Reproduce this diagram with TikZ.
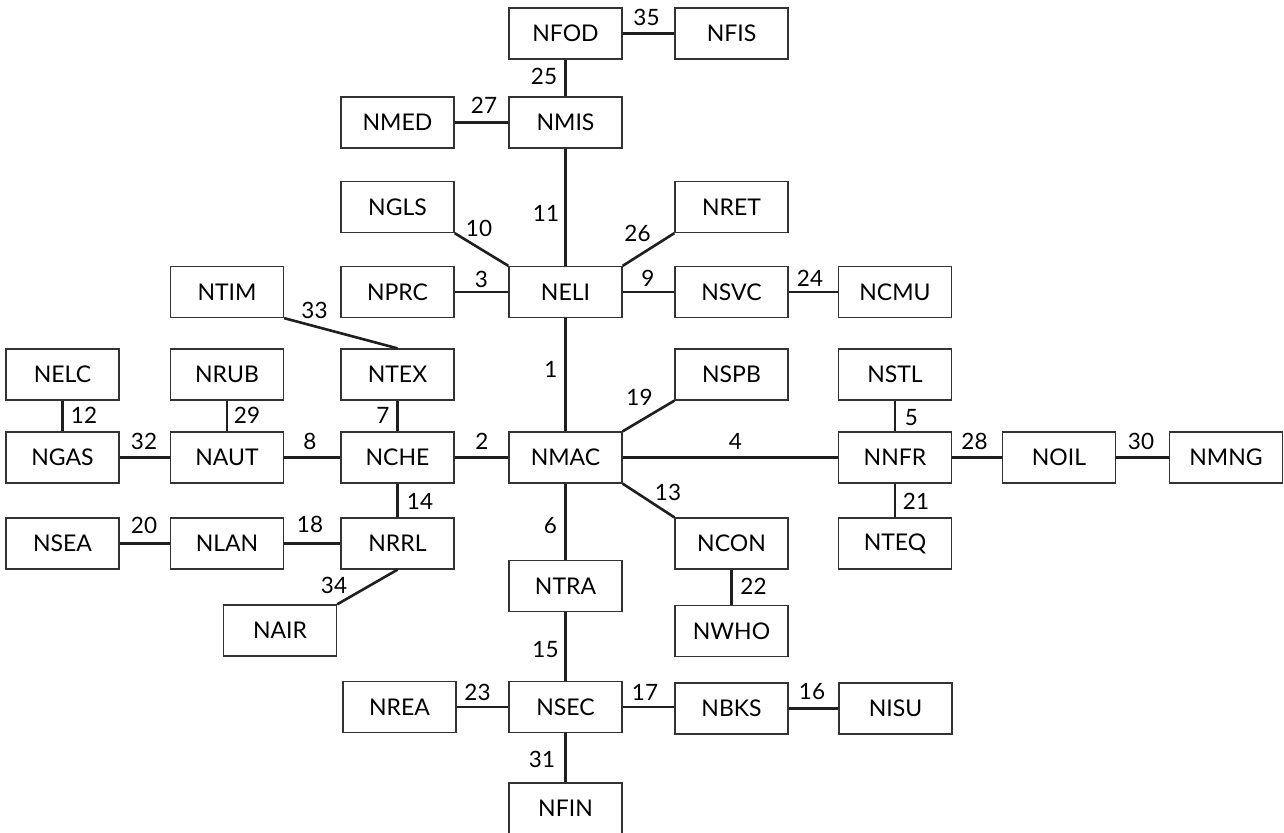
\documentclass[tikz,border=0pt]{standalone}
\usepackage{fontspec}
\setmainfont{Lato}
\begin{document}
\begin{tikzpicture}[x=1pt,y=-1pt,
  box/.style={draw=black!80,line width=1.3pt,minimum width=113pt,minimum height=51pt,inner sep=0pt,font=\fontsize{23}{23}\selectfont},
  conn/.style={draw=black!88,line width=2.6pt},
  lbl/.style={inner sep=0pt,font=\fontsize{22.5}{22.5}\selectfont}]
\useasboundingbox (0,0) rectangle (1284,832);
% row 1
\node[box] (NFOD) at (565.5,33.5) {NFOD};
\node[box] (NFIS) at (731.5,33.5) {NFIS};
% row 2
\node[box] (NMED) at (397.5,122.5) {NMED};
\node[box] (NMIS) at (565.5,122.5) {NMIS};
% row 3
\node[box] (NGLS) at (397.5,207) {NGLS};
\node[box] (NRET) at (731.5,207) {NRET};
% row 4
\node[box] (NTIM) at (227,292) {NTIM};
\node[box] (NPRC) at (397.5,292) {NPRC};
\node[box] (NELI) at (565.5,292) {NELI};
\node[box] (NSVC) at (731.5,292) {NSVC};
\node[box] (NCMU) at (895,292) {NCMU};
% row 5
\node[box] (NELC) at (62.5,374.5) {NELC};
\node[box] (NRUB) at (227,374.5) {NRUB};
\node[box] (NTEX) at (397.5,374.5) {NTEX};
\node[box] (NSPB) at (731.5,374.5) {NSPB};
\node[box] (NSTL) at (895,374.5) {NSTL};
% row 6
\node[box] (NGAS) at (62.5,457.5) {NGAS};
\node[box] (NAUT) at (227,457.5) {NAUT};
\node[box] (NCHE) at (397.5,457.5) {NCHE};
\node[box] (NMAC) at (565.5,457.5) {NMAC};
\node[box] (NNFR) at (895,457.5) {NNFR};
\node[box] (NOIL) at (1059,457.5) {NOIL};
\node[box] (NMNG) at (1226,457.5) {NMNG};
% row 7
\node[box] (NSEA) at (62.5,543.5) {NSEA};
\node[box] (NLAN) at (227,543.5) {NLAN};
\node[box] (NRRL) at (397.5,543.5) {NRRL};
\node[box] (NCON) at (731.5,543.5) {NCON};
\node[box] (NTEQ) at (895,543.5) {NTEQ};
% lower
\node[box] (NTRA) at (565.5,586) {NTRA};
\node[box] (NAIR) at (280,630.5) {NAIR};
\node[box] (NWHO) at (731.5,631) {NWHO};
\node[box] (NREA) at (399.5,707) {NREA};
\node[box] (NSEC) at (565.5,707) {NSEC};
\node[box] (NBKS) at (731.5,708.5) {NBKS};
\node[box] (NISU) at (895.5,708.5) {NISU};
\node[box] (NFIN) at (565.5,808.5) {NFIN};

% connectors
\draw[conn] (NFOD) -- (NFIS);
\draw[conn] (NFOD) -- (NMIS);
\draw[conn] (NMED) -- (NMIS);
\draw[conn] (NMIS) -- (NELI);
\draw[conn] (NGLS.south east) -- (NELI.north west);
\draw[conn] (NELI.north east) -- (NRET.south west);
\draw[conn] (NPRC) -- (NELI);
\draw[conn] (NELI) -- (NSVC);
\draw[conn] (NSVC) -- (NCMU);
\draw[conn] (NTIM.south east) -- (NTEX.north);
\draw[conn] (NELI) -- (NMAC);
\draw[conn] (NMAC.north east) -- (NSPB.south west);
\draw[conn] (NMAC) -- (NNFR);
\draw[conn] (NMAC.south east) -- (NCON.north west);
\draw[conn] (NMAC) -- (NTRA);
\draw[conn] (NCHE) -- (NMAC);
\draw[conn] (NAUT) -- (NCHE);
\draw[conn] (NGAS) -- (NAUT);
\draw[conn] (NELC) -- (NGAS);
\draw[conn] (NRUB) -- (NAUT);
\draw[conn] (NTEX) -- (NCHE);
\draw[conn] (NCHE) -- (NRRL);
\draw[conn] (NSTL) -- (NNFR);
\draw[conn] (NNFR) -- (NOIL);
\draw[conn] (NOIL) -- (NMNG);
\draw[conn] (NNFR) -- (NTEQ);
\draw[conn] (NSEA) -- (NLAN);
\draw[conn] (NLAN) -- (NRRL);
\draw[conn] (NAIR.north east) -- (NRRL.south);
\draw[conn] (NCON) -- (NWHO);
\draw[conn] (NTRA) -- (NSEC);
\draw[conn] (NREA.east) -- (NSEC.west);
\draw[conn] (NSEC.east) -- (NBKS.west |- NSEC.east);
\draw[conn] (NBKS) -- (NISU);
\draw[conn] (NSEC) -- (NFIN);

% labels
\node[lbl] (l35) at (646.5,17.5) {35};
\node[lbl] (l25) at (544,76.5) {25};
\node[lbl] (l27) at (484,105) {27};
\node[lbl] (l11) at (546,213) {11};
\node[lbl] (l10) at (479,228) {10};
\node[lbl] (l26) at (637.5,233) {26};
\node[lbl] (l3) at (481.5,279.5) {3};
\node[lbl] (l9) at (648,278.5) {9};
\node[lbl] (l24) at (810,278.5) {24};
\node[lbl] (l33) at (314.5,310) {33};
\node[lbl] (l1) at (551,369) {1};
\node[lbl] (l19) at (639.5,397.5) {19};
\node[lbl] (l4) at (735.5,441) {4};
\node[lbl] (l13) at (668,492.5) {13};
\node[lbl] (l6) at (550.5,525.5) {6};
\node[lbl] (l2) at (482,441) {2};
\node[lbl] (l8) at (310,441) {8};
\node[lbl] (l32) at (144,441) {32};
\node[lbl] (l12) at (84,415) {12};
\node[lbl] (l29) at (247,415) {29};
\node[lbl] (l7) at (383,415) {7};
\node[lbl] (l14) at (420,501) {14};
\node[lbl] (l5) at (911.5,418) {5};
\node[lbl] (l28) at (974.5,441) {28};
\node[lbl] (l30) at (1141,441) {30};
\node[lbl] (l21) at (916,501) {21};
\node[lbl] (l20) at (144,525) {20};
\node[lbl] (l18) at (310,524) {18};
\node[lbl] (l34) at (334,585) {34};
\node[lbl] (l22) at (753.5,586.5) {22};
\node[lbl] (l15) at (545.5,650) {15};
\node[lbl] (l23) at (477.5,692) {23};
\node[lbl] (l17) at (645,692) {17};
\node[lbl] (l16) at (812,692) {16};
\node[lbl] (l31) at (542,759.5) {31};
\end{tikzpicture}
\end{document}
